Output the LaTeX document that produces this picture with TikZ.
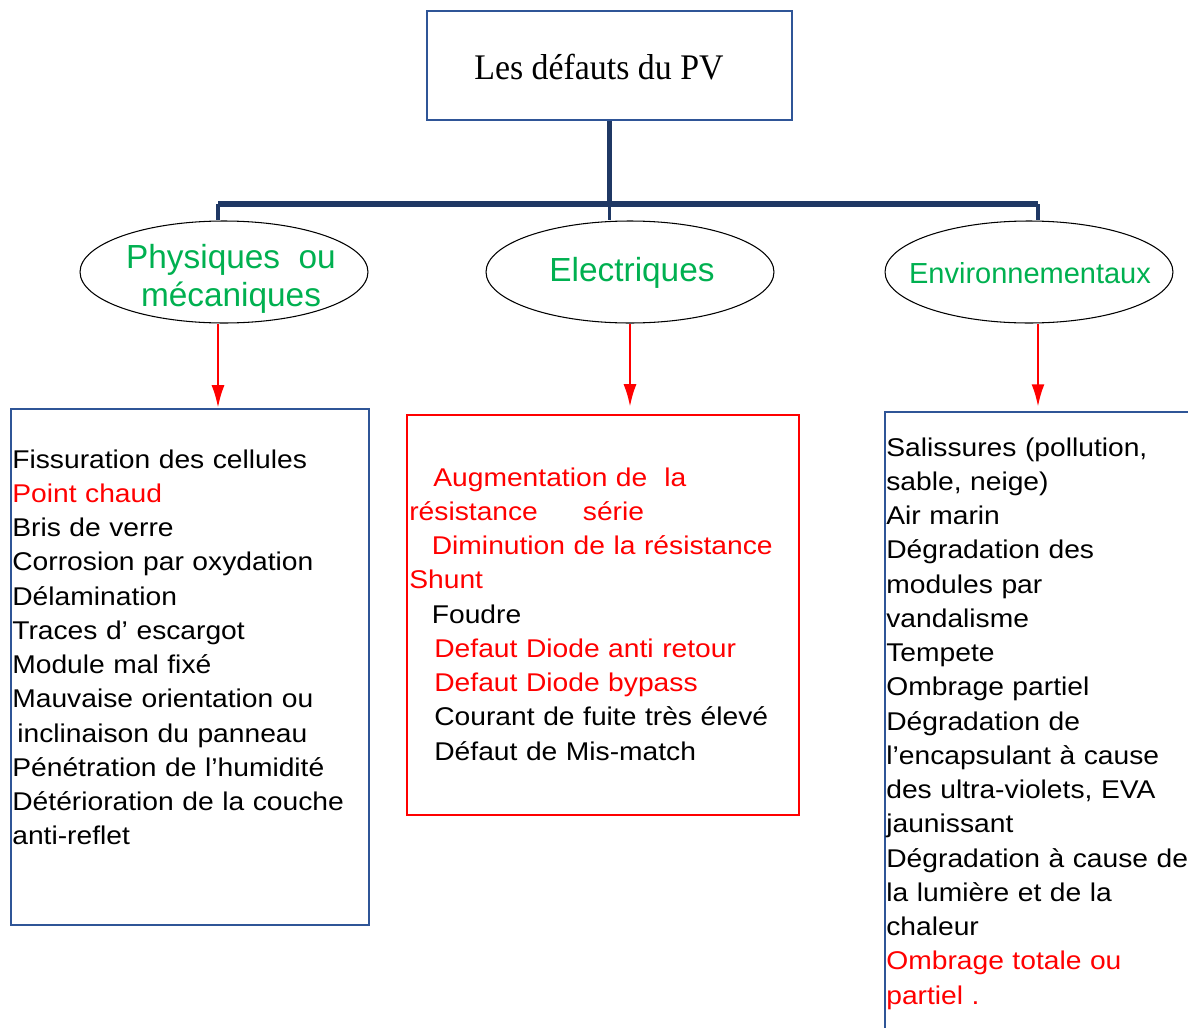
\documentclass[tikz,border=0pt]{standalone}
\usepackage{fontspec}
\setmainfont{Liberation Sans}
\newfontfamily\listfont[FakeStretch=1.1]{Liberation Sans}
\newfontfamily\titlefont[FakeStretch=0.94]{Liberation Serif}
\usetikzlibrary{arrows.meta,shapes.geometric}
\definecolor{boxblue}{RGB}{47,85,151}
\definecolor{trunkblue}{RGB}{31,56,100}
\definecolor{catgreen}{RGB}{0,176,80}

\begin{document}
\begin{tikzpicture}
[
x=0.02cm, y=-0.02cm,
title/.style={rectangle, draw=boxblue, line width=1.5pt, minimum width=7.3cm, minimum height=2.18cm, inner sep=0},
titletext/.style={font=\titlefont\fontsize{20.5pt}{24pt}\selectfont, inner sep=0, anchor=base},
cat/.style={ellipse, draw=black, line width=0.6pt, minimum width=5.76cm, minimum height=2.04cm, inner sep=0},
cattext/.style={text=catgreen, font=\fontsize{19pt}{22pt}\selectfont, inner sep=0, anchor=base, align=center},
listbox/.style={rectangle, draw=boxblue, line width=1.5pt, inner sep=0},
list/.style={font=\listfont\fontsize{14.6pt}{19.5pt}\selectfont, inner sep=0, anchor=base west, text width=8cm, align=left},
trunk/.style={draw=trunkblue, line width=3pt},
drop/.style={draw=trunkblue, line width=2pt},
redarrow/.style={draw=red, line width=1.3pt, -{Latex[length=0.45cm,width=0.26cm]}}
]
\useasboundingbox (0,0) rectangle (1188,1028);
\clip (0,0) rectangle (1188,1028);

%Nodes
\node[title]    (top)       at (609.5,65.5)     {};
\node[titletext] (toptext)  at (599,79)         {Les défauts du PV};

\node[cat]      (phy)       at (224,272)        {};
\node[cat]      (elec)      at (630,272)        {};
\node[cat]      (env)       at (1029,272)       {};
\node[cattext, anchor=center] (phytext) at (231,279) {Physiques\ \ ou\\mécaniques};
\node[cattext]  (electext)  at (632,281)        {Electriques};
\node[cattext, font=\fontsize{16.5pt}{20pt}\selectfont] (envtext) at (1030,283) {Environnementaux};

\node[listbox, minimum width=7.16cm, minimum height=10.32cm]          (phybox)  at (190,667)  {};
\node[listbox, draw=red, minimum width=7.84cm, minimum height=8cm]    (elecbox) at (603,615)  {};
\node[listbox, minimum width=6.6cm, minimum height=12.76cm]           (envbox)  at (1050,731) {};

\node[list] (philist) at (12,468) {Fissuration des cellules\\
\textcolor{red}{Point chaud}\\
Bris de verre\\
Corrosion par oxydation\\
Délamination\\
Traces d’ escargot\\
Module mal fixé\\
Mauvaise orientation ou\\
\hspace*{0.1cm}inclinaison du panneau\\
Pénétration de l’humidité\\
Détérioration de la couche\\
anti-reflet};

\node[list] (eleclist) at (409,486) {\color{red}\hspace*{0.48cm}Augmentation de\ \ la\\
résistance\hspace{0.9cm}série\\
\hspace*{0.45cm}Diminution de la résistance\\
Shunt\\
\color{black}\hspace*{0.45cm}Foudre\\
\color{red}\hspace*{0.5cm}Defaut Diode anti retour\\
\hspace*{0.5cm}Defaut Diode bypass\\
\color{black}\hspace*{0.5cm}Courant de fuite très élevé\\
\hspace*{0.5cm}Défaut de Mis-match};

\node[list] (envlist) at (886,456) {Salissures (pollution,\\
sable, neige)\\
Air marin\\
Dégradation des\\
modules par\\
vandalisme\\
Tempete\\
Ombrage partiel\\
Dégradation de\\
l’encapsulant à cause\\
des ultra-violets, EVA\\
jaunissant\\
Dégradation à cause de\\
la lumière et de la\\
chaleur\\
\color{red}Ombrage totale ou\\
partiel .};

%Lines
\coordinate (barL) at (218,204);
\coordinate (barM) at (top.south |- barL);
\coordinate (barR) at (1038,204);
\draw[trunk] (top.south) -- (barM);
\draw[trunk, line width=3.2pt] (barL) -- (barR);
\draw[drop] (barL) -- (barL |- phy.north);
\draw[drop] (barM) -- (barM |- elec.north);
\draw[drop] (barR) -- (barR |- env.north);

\draw[redarrow] (barL |- phy.south) -- (barL |- phybox.north);
\draw[redarrow, shorten >=0.14cm] (elec.south) -- (elec.south |- elecbox.north);
\draw[redarrow, shorten >=0.08cm] (barR |- env.south) -- (barR |- envbox.north);

\end{tikzpicture}
\end{document}
